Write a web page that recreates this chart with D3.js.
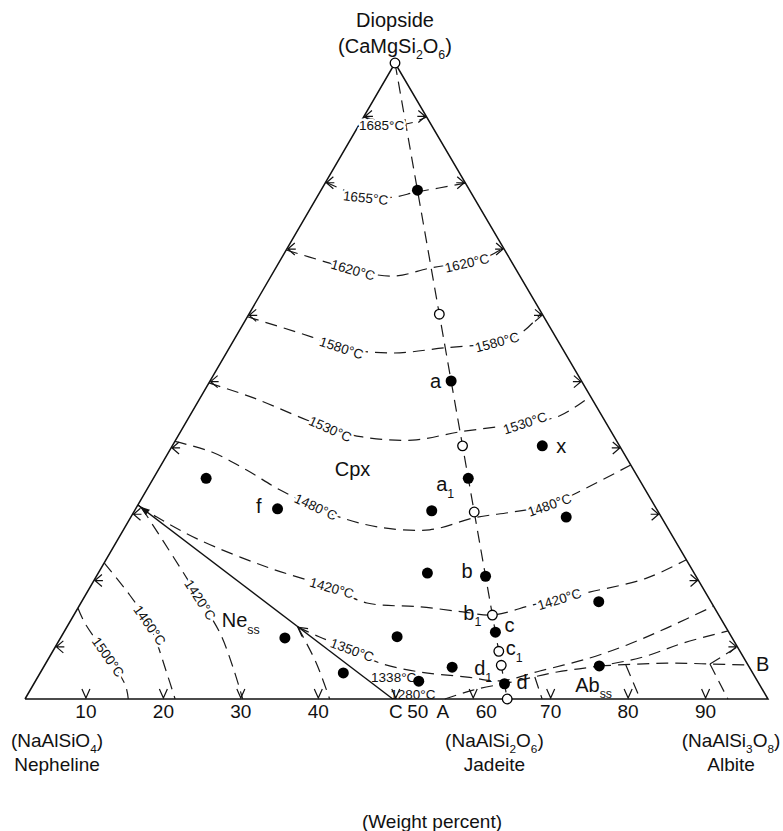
<!DOCTYPE html>
<html>
<head>
<meta charset="utf-8">
<script src="https://cdn.jsdelivr.net/npm/d3@7"></script>
<style>
  body { margin: 0; background: #fff; }
  svg { display: block; }
  text { font-family: "Liberation Sans", Arial, sans-serif; fill: #111; }
</style>
</head>
<body>
<svg id="chart" width="783" height="831"></svg>
<script>
// ---- Data: compositions in weight percent, given as [Di, Ab] (Ne = 100 - Di - Ab) ----

// values printed along the Ne–Ab side
const tickValues = [10, 20, 30, 40, 50, 60, 70, 80, 90];

// jadeite (NaAlSi2O6) lies on the Ne–Ab side at this wt% NaAlSi3O8
const jadeiteAb = 64.9;

// compositions on the diopside–jadeite join (wt% diopside)
const joinDi    = [100, 80, 60.5, 50, 39.8, 34.7, 29.4, 19.3, 13.2, 10.5, 7.5, 5.3, 2.4, 0];
const joinKind  = ["open", "solid", "open", "solid", "open", "solid", "open", "solid", "open", "solid", "open", "open", "solid", "open"];
const joinLabel = ["", "", "", "a", "", "a{1}", "", "b", "b{1}", "c", "c{1}", "d{1}", "d", ""];

// compositions off the join
const sampleDi    = [39.8, 34.7, 29.9, 29.6, 28.6, 19.8, 15.3, 9.6, 9.8, 4.1, 5.0, 2.8, 5.2];
const sampleAb    = [49.8, 7.1, 19.1, 40.0, 58.6, 44.3, 69.6, 30.2, 45.2, 40.8, 55.0, 51.6, 74.7];
const sampleLabel = ["x", "", "f", "", "", "", "", "", "", "", "", "", ""];

// special points
const pointP = [30.5, 0];     // end of the Ne(ss) boundary on the Ne–Di side
const pointJ = [11.3, 31.1];  // 1350 °C junction on that boundary
const pointC = [0, 49.5];
const pointA = [0, 56.5];
const pointB = [5.35, 94.65];

// isotherms and boundary curves, [Di, Ab]
const iso1685 = [[91.5, 0], [90.4, 6.1], [91.5, 8.5]];
const iso1655 = [[81.3, 0], [78.9, 6.3], [78.9, 10.3], [79.7, 12.9], [80.35, 15.7], [81.1, 18.9]];
const iso1620 = [[70.6, 0], [68.7, 6.3], [67.45, 10.55], [66.5, 16.55], [67.8, 20.9], [68.7, 25.3], [69.65, 27.75], [70.9, 29.1]];
const iso1580 = [[60.1, 0], [56.9, 10.3], [55.2, 15.1], [54.4, 22.3], [55.2, 28.9], [56.1, 35.6], [57.7, 38.2], [60.7, 39.3]];
const iso1530 = [[49.7, 0], [47.3, 7.3], [44.2, 15.2], [42.45, 19.95], [41.2, 24.9], [40.7, 31.9], [42.0, 37.6], [43.4, 45.7], [44.5, 49.75], [47.6, 52.4]];
const iso1480 = [[40.5, 0], [38.8, 5.9], [36.0, 11.9], [32.9, 17.9], [30.2, 24.1], [28.6, 28.1], [27.0, 34.3], [26.6, 41.2], [28.5, 46.3], [29.4, 51.0], [30.5, 55.4], [32.4, 58.1], [36.8, 63.2]];
const iso1420Cpx = [[30.5, 0], [28.6, 3.5], [25.0, 11.05], [20.75, 22.2], [17.45, 32.6], [15.1, 38.5], [14.5, 45.9], [13.7, 52.1], [13.2, 56.3], [14.8, 61.0], [15.7, 64.1], [16.8, 67.6], [19.0, 74.2], [21.9, 78.1]];
const iso1420Ne = [[30.0, 0.8], [20.75, 10.5], [15.6, 15.8], [10.4, 21.05], [5.0, 25.5], [0, 29.3]];
const iso1460 = [[21.4, 0], [16.35, 5.95], [11.6, 11.0], [3.5, 17.5], [0, 20.2]];
const iso1500 = [[14.3, 0], [11.95, 2.1], [6.6, 7.9], [2.2, 12.4], [0, 13.9]];
const isoNeLow = [[11.3, 31.1], [6.1, 36.0], [3.0, 38.6], [0, 41.0]];
const iso1350 = [[11.3, 31.1], [9.75, 34.8], [7.7, 40.2], [5.65, 44.95], [4.25, 51.0], [3.45, 57.8], [2.85, 62.5], [4.4, 67.1], [6.45, 72.8], [8.5, 76.8], [11.15, 80.8], [14.6, 85.4]];
const curveA = [[0, 56.5], [1.4, 59.6], [2.7, 64.3], [4.25, 69.5], [5.2, 74.7], [6.6, 79.9], [8.8, 84.2], [10.7, 89.3]];
const curveB = [[5.2, 74.7], [5.65, 83.6], [5.5, 89.45], [5.35, 94.65]];
const curveBEdge = [[5.5, 89.45], [8.2, 91.8]];
const abDrop1 = [[3.45, 66.9], [0, 69.6]];
const abDrop2 = [[5.35, 78.2], [0, 82.8]];
const abDrop3 = [[5.5, 89.45], [0, 94.6]];

// temperature labels: text, Di, Ab, rotation, masks the line beneath
const tempLabels = [
  ["1685°C", 90.25, 3.05, 0, true],
  ["1655°C", 78.8, 6.6, 6, true],
  ["1620°C", 67.45, 10.55, 16, true],
  ["1620°C", 68.55, 25.35, -13, true],
  ["1580°C", 55.2, 15.1, 18, true],
  ["1580°C", 56.1, 35.6, -15, true],
  ["1530°C", 42.45, 19.95, 24, true],
  ["1530°C", 43.4, 45.7, -18, true],
  ["1480°C", 30.2, 24.1, 25, true],
  ["1480°C", 30.5, 55.4, -19, true],
  ["1420°C", 17.45, 32.6, 16, true],
  ["1420°C", 15.7, 64.1, -17, true],
  ["1420°C", 15.6, 15.8, 57, true],
  ["1460°C", 11.6, 11.0, 55, true],
  ["1500°C", 6.6, 7.9, 55, true],
  ["1350°C", 7.7, 40.2, 20, true],
  ["1338°C", 3.46, 47.9, 0, false],
  ["1280°C", 0.8, 51.8, 0, false]
];

// phase-field labels: text, Di, Ab
const fieldLabels = [
  ["Cpx", 35.06, 26.62],
  ["Ne{ss}", 11.3, 20.85],
  ["Ab{ss}", 1.1, 73.5]
];

// ---- Scales ----
const apexShare = 0.498;                    // Di apex sits this far along the base
const xScale = d3.scaleLinear().domain([0, 100]).range([25, 768]);
const yScale = d3.scaleLinear().domain([0, 100]).range([699, 63]);
const tickScale = d3.scaleLinear().domain([10, 90]).range([8.2, 91.6]);

function pos(di, ab) {
  return [xScale(ab + di * apexShare), yScale(di)];
}

const svg = d3.select("#chart");
const FONT = 19;
const DASH = "12,7";

// text with {sub} subscripts
function richText(sel, str, size) {
  const parts = str.split(/(\{[^}]*\})/).filter(s => s.length);
  let shifted = false;
  parts.forEach(p => {
    if (p.startsWith("{")) {
      sel.append("tspan").attr("dy", size * 0.32).attr("font-size", size * 0.62).text(p.slice(1, -1));
      shifted = true;
    } else {
      const t = sel.append("tspan").text(p);
      if (shifted) t.attr("dy", -size * 0.32);
      shifted = false;
    }
  });
  return sel;
}

const lineGen = d3.line()
  .x(d => pos(d[0], d[1])[0])
  .y(d => pos(d[0], d[1])[1])
  .curve(d3.curveCatmullRom.alpha(0.5));

// ---- Triangle ----
svg.append("path")
  .attr("d", d3.line()([pos(0, 0), pos(100, 0), pos(0, 100), pos(0, 0)]))
  .attr("fill", "none").attr("stroke", "#111").attr("stroke-width", 1.5)
  .attr("stroke-linejoin", "miter");

// ---- Dashed isotherms and boundaries ----
const dashed = [iso1685, iso1655, iso1620, iso1580, iso1530, iso1480, iso1420Cpx, iso1420Ne,
  iso1460, iso1500, isoNeLow, iso1350, curveA, curveB, curveBEdge, abDrop1, abDrop2, abDrop3];
svg.append("g").selectAll("path").data(dashed).join("path")
  .attr("d", d => lineGen(d))
  .attr("fill", "none").attr("stroke", "#1a1a1a").attr("stroke-width", 1.2)
  .attr("stroke-dasharray", DASH);

// Di–Jd join
svg.append("path")
  .attr("d", d3.line()([pos(100, 0), pos(0, jadeiteAb)]))
  .attr("fill", "none").attr("stroke", "#1a1a1a").attr("stroke-width", 1.2)
  .attr("stroke-dasharray", DASH);

// Ne(ss) boundary (solid)
const pP = pos(...pointP), pC = pos(...pointC), pJ = pos(...pointJ);
svg.append("path").attr("d", d3.line()([pP, pC]))
  .attr("fill", "none").attr("stroke", "#111").attr("stroke-width", 1.4);

// arrowheads on the boundary, pointing toward P
const len = Math.hypot(pC[0] - pP[0], pC[1] - pP[1]);
const ux = (pC[0] - pP[0]) / len, uy = (pC[1] - pP[1]) / len; // from P toward C
const nx = -uy, ny = ux;
svg.append("path")
  .attr("d", `M${pP[0] + 2},${pP[1] + 1.5} L${pP[0] + 2 + ux * 10 + nx * 3.5},${pP[1] + 1.5 + uy * 10 + ny * 3.5} L${pP[0] + 2 + ux * 10 - nx * 3.5},${pP[1] + 1.5 + uy * 10 - ny * 3.5}Z`)
  .attr("fill", "#111");
svg.append("path")
  .attr("d", `M${pJ[0] + ux * 9 + nx * 5},${pJ[1] + uy * 9 + ny * 5} L${pJ[0]},${pJ[1]} L${pJ[0] + ux * 9 - nx * 5},${pJ[1] + uy * 9 - ny * 5}`)
  .attr("fill", "none").attr("stroke", "#111").attr("stroke-width", 1.2);

// ---- Arrow ticks along the three sides ----
const ticks = svg.append("g").attr("fill", "none").attr("stroke", "#111").attr("stroke-width", 1.2);
tickValues.forEach(v => {
  const f = tickScale(v);
  const [lx, ly] = pos(f, 0);          // Ne–Di side
  ticks.append("path").attr("d", `M${lx + 8},${ly - 6} L${lx + 1},${ly} L${lx + 8},${ly + 6} M${lx + 1},${ly} L${lx + 9},${ly}`);
  const [rx, ry] = pos(f, 100 - f);    // Di–Ab side
  ticks.append("path").attr("d", `M${rx - 8},${ry - 6} L${rx - 1},${ry} L${rx - 8},${ry + 6} M${rx - 1},${ry} L${rx - 9},${ry}`);
  const [bx, by] = pos(0, f);          // Ne–Ab side
  ticks.append("path").attr("d", `M${bx - 4},${by - 10} L${bx},${by - 1} L${bx + 4},${by - 10}`);
});

// ---- Temperature labels ----
const tl = svg.append("g");
tempLabels.forEach(([txt, di, ab, rot, mask]) => {
  const [x, y] = pos(di, ab);
  const t = tl.append("text")
    .attr("transform", `translate(${x},${y}) rotate(${rot})`)
    .attr("text-anchor", "middle").attr("dy", "0.35em")
    .attr("font-size", 13.5).text(txt);
  if (mask) t.attr("stroke", "#fff").attr("stroke-width", 5).attr("paint-order", "stroke").attr("stroke-linejoin", "round");
});

// ---- Field labels ----
fieldLabels.forEach(([txt, di, ab]) => {
  const [x, y] = pos(di, ab);
  const t = svg.append("text").attr("x", x).attr("y", y).attr("font-size", 20)
    .attr("text-anchor", txt === "Cpx" ? "middle" : "start");
  richText(t, txt, 20);
});

// ---- Points ----
const labelOffset = {
  "a": [-10, 7, "end"], "a{1}": [-14, 13, "end"], "b": [-13, 2, "end"], "b{1}": [-11, 5, "end"],
  "c": [9, 0, "start"], "c{1}": [7, 4, "start"], "d{1}": [-9, 10, "end"], "d": [12, 5, "start"],
  "x": [14, 7, "start"], "f": [-16, 4, "end"]
};

function pointLabel(lbl, x, y) {
  if (!lbl) return;
  const [dx, dy, anchor] = labelOffset[lbl];
  const t = svg.append("text").attr("x", x + dx).attr("y", y + dy)
    .attr("font-size", FONT + 1).attr("text-anchor", anchor);
  richText(t, lbl, FONT + 1);
}

const joinPts = joinDi.map((t, i) => ({ di: t, ab: jadeiteAb * (100 - t) / 100, kind: joinKind[i], label: joinLabel[i] }));
const samplePts = sampleDi.map((d, i) => ({ di: d, ab: sampleAb[i], kind: "solid", label: sampleLabel[i] }));
const allPts = joinPts.concat(samplePts);

svg.append("g").selectAll("circle").data(allPts).join("circle")
  .attr("cx", d => pos(d.di, d.ab)[0])
  .attr("cy", d => pos(d.di, d.ab)[1])
  .attr("r", d => d.kind === "solid" ? 5.5 : 4.8)
  .attr("fill", d => d.kind === "solid" ? "#000" : "#fff")
  .attr("stroke", "#000").attr("stroke-width", d => d.kind === "solid" ? 0 : 1.3);

allPts.forEach(d => {
  const [x, y] = pos(d.di, d.ab);
  pointLabel(d.label, x, y);
});

// B label at the end of its boundary
{
  const [x, y] = pos(...pointB);
  svg.append("text").attr("x", x + 8).attr("y", y + 6).attr("font-size", 20).text("B");
}

// ---- Scale along the Ne–Ab side ----
const baseY = yScale(0);
const tickShift = { 50: 22, 60: 13 };   // room for the C / A markers and the jadeite circle
tickValues.forEach(v => {
  const [x] = pos(0, tickScale(v));
  svg.append("text").attr("x", x + (tickShift[v] || 0)).attr("y", baseY + 19)
    .attr("font-size", FONT).attr("text-anchor", "middle").text(v);
});
[["C", pointC, 3], ["A", pointA, -2]].forEach(([txt, p, dx]) => {
  const [x] = pos(...p);
  svg.append("text").attr("x", x + dx).attr("y", baseY + 19)
    .attr("font-size", FONT).attr("text-anchor", "middle").text(txt);
});

// ---- End-member names ----
const apex = pos(100, 0);
svg.append("text").attr("x", apex[0]).attr("y", 27).attr("font-size", 20).attr("text-anchor", "middle").text("Diopside");
richText(svg.append("text").attr("x", apex[0]).attr("y", 53).attr("font-size", 20).attr("text-anchor", "middle"), "(CaMgSi{2}O{6})", 20);

const bottomNames = [
  ["(NaAlSiO{4})", "Nepheline", 0],
  ["(NaAlSi{2}O{6})", "Jadeite", jadeiteAb],
  ["(NaAlSi{3}O{8})", "Albite", 100]
];
const nameX = d3.scaleLinear().domain([0, 100]).range([57, 731]);
bottomNames.forEach(([formula, name, ab]) => {
  const x = nameX(ab);
  richText(svg.append("text").attr("x", x).attr("y", 747).attr("font-size", FONT).attr("text-anchor", "middle"), formula, FONT);
  svg.append("text").attr("x", x).attr("y", 771).attr("font-size", FONT).attr("text-anchor", "middle").text(name);
});

svg.append("text").attr("x", 432).attr("y", 828).attr("font-size", FONT).attr("text-anchor", "middle").text("(Weight percent)");
</script>
</body>
</html>
